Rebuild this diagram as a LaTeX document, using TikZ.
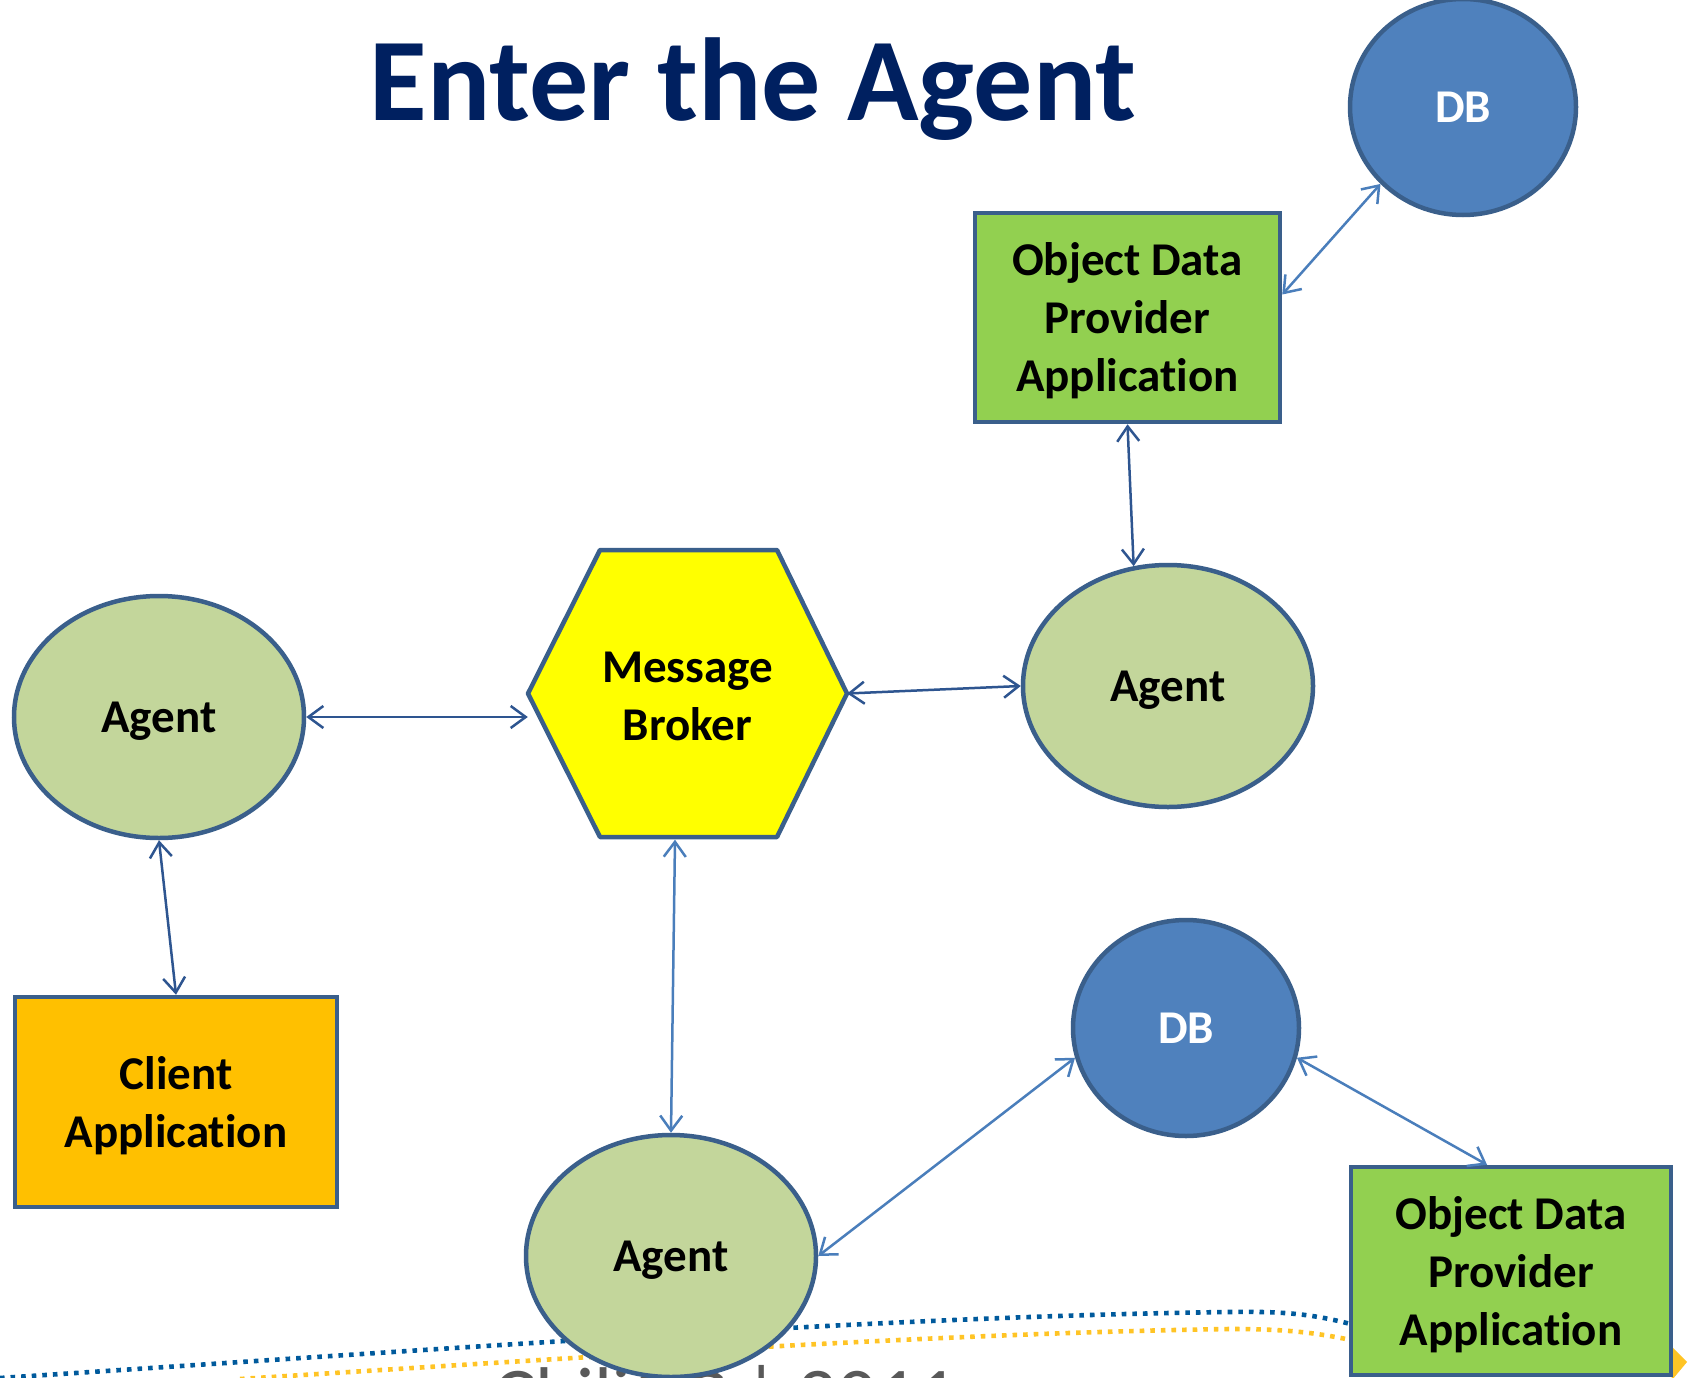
\documentclass[tikz,border=0pt]{standalone}
\usepackage{fontspec}
\setmainfont{Carlito}[Ligatures=NoCommon]
\usetikzlibrary{arrows.meta,shapes.geometric}
\definecolor{bordc}{HTML}{3A5F8B}
\definecolor{agentc}{HTML}{C3D69B}
\definecolor{dbc}{HTML}{4F81BD}
\definecolor{odpc}{HTML}{92D050}
\definecolor{clientc}{HTML}{FFC000}
\definecolor{brokerc}{HTML}{FFFF00}
\definecolor{titlec}{HTML}{002060}
\definecolor{darkarrow}{HTML}{2E5590}
\definecolor{lightarrow}{HTML}{4A7EBB}
\definecolor{swblue}{HTML}{005A9C}
\definecolor{swyellow}{HTML}{FFC425}
\definecolor{footc}{HTML}{595959}
\begin{document}
\begin{tikzpicture}[x=1pt,y=-1pt,
  lbl/.style={font=\fontsize{47}{58}\selectfont\bfseries, align=center, text=black, text depth=0pt},
  agent/.style={lbl, ellipse, draw=bordc, line width=4.5pt, fill=agentc, minimum width=290pt, minimum height=242pt, inner sep=0pt},
  db/.style={lbl, ellipse, draw=bordc, line width=4.5pt, fill=dbc, text=white, minimum width=226pt, minimum height=216pt, inner sep=0pt},
  box/.style={lbl, rectangle, draw=bordc, line width=4.5pt, inner sep=0pt},
  link/.style={line width=2.5pt, {Straight Barb[length=15pt,width=22pt]}-{Straight Barb[length=15pt,width=22pt]}},
  dlink/.style={link, draw=darkarrow},
  llink/.style={link, draw=lightarrow},
  swoosh/.style={line width=4.6pt, dash pattern=on 4.6pt off 6pt}
]
\useasboundingbox (0,0) rectangle (1689,1378);
\clip (0,0) rectangle (1689,1378);
\fill[white] (0,0) rectangle (1689,1378);

% footer decoration
\draw[swoosh, swblue] (0,1378) .. controls (500,1345) and (900,1316) .. (1230,1312) .. controls (1290,1311) and (1320,1315) .. (1365,1328);
\draw[swoosh, swyellow] (240,1379) .. controls (600,1356) and (950,1333) .. (1230,1329) .. controls (1290,1329) and (1320,1333) .. (1365,1343);
\fill[swyellow] (1668,1343) -- (1687,1362) -- (1672,1380) -- cycle;
\node[font=\fontsize{79}{90}\selectfont, text=footc, anchor=base west, inner sep=0pt] (foot) at (493,1422) {ChiliOC | 2011};

% title
\node[font=\fontsize{118}{140}\selectfont\bfseries, text=titlec, anchor=base, inner sep=0pt] (title) at (753,121) {Enter the Agent};

% nodes
\node[agent] (agentL) at (159,717) {Agent};
\node[agent] (agentR) at (1168,686) {Agent};
\node[agent] (agentB) at (671,1256) {Agent};
\node[db] (dbT) at (1463,107) {DB};
\node[db] (dbB) at (1186,1028) {DB};
\node[box, fill=odpc, minimum width=305pt, minimum height=209pt] (odp1) at (1127.5,317.5) {Object Data\\Provider\\Application};
\node[box, fill=odpc, minimum width=320pt, minimum height=208pt] (odp2) at (1511,1271) {Object Data\\Provider\\Application};
\node[box, fill=clientc, minimum width=322pt, minimum height=210pt] (client) at (176,1102) {Client\\Application};
\filldraw[fill=brokerc, draw=bordc, line width=4.5pt, line join=round]
  (600,550) -- (777,550) -- (847,693.5) -- (777,837) -- (600,837) -- (528,693.5) -- cycle;
\node[lbl, rectangle, minimum width=319pt, minimum height=287pt, inner sep=0pt] (broker) at (687.5,696) {Message\\Broker};

% connectors
\draw[dlink] (agentL.east) -- (agentL.east -| broker.west);
\draw[dlink] ([yshift=2.5pt]broker.east) -- (agentR.west);
\draw[dlink] (odp1.south) -- (agentR.106);
\draw[llink] ([yshift=23pt]odp1.east) -- (dbT.223);
\draw[dlink] (agentL.south) -- (client.north);
\draw[llink] ([xshift=4pt]broker.south -| agentB.north) -- (agentB.north);
\draw[llink] (agentB.east) -- (dbB.195);
\draw[llink] (dbB.345) -- ([xshift=-24pt]odp2.north);
\end{tikzpicture}
\end{document}
